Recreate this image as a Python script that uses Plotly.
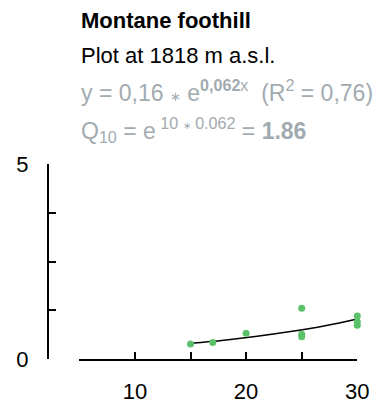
import plotly.graph_objects as go

# Observed data (temperature vs. rate)
obs_x = [15, 17, 20, 25, 25, 25, 30, 30, 30]
obs_y = [0.39, 0.43, 0.67, 1.31, 0.64, 0.58, 1.11, 0.96, 0.87]

# Fitted exponential curve
fit_x = [15, 18, 21, 24, 27, 30]
fit_y = [0.41, 0.49, 0.59, 0.71, 0.85, 1.03]

x_tickvals = [5, 10, 15, 20, 25, 30]
x_ticktext = ["", "10", "", "20", "", "30"]
y_tickvals = [0, 1.25, 2.5, 3.75, 5]
y_ticktext = ["0", "", "", "", "5"]

STAR = '<span style="font-size:13px">\u2217</span>'
STAR_SUP = '<span style="font-size:10px">\u2217</span>'
title = "Montane foothill"
subtitle = "Plot at 1818 m a.s.l."
equation = "y = 0,16 " + STAR + " e<sup><b>0,062</b>x</sup>  (R<sup>2</sup> = 0,76)"
q10 = "Q<sub>10</sub> = e<sup> 10 " + STAR_SUP + " 0.062</sup> = <b>1.86</b>"

W, H = 381, 403
GRAY = "#a2abb0"
GREEN = "#5cc26a"
FONT = "Liberation Sans, Arial, sans-serif"

fig = go.Figure()
fig.add_trace(go.Scatter(x=fit_x, y=fit_y, mode="lines", line=dict(color="black", width=1.5, shape="spline"),
                         cliponaxis=False, showlegend=False, hoverinfo="skip"))
fig.add_trace(go.Scatter(x=obs_x, y=obs_y, mode="markers", marker=dict(color=GREEN, size=7, line=dict(width=0)),
                         cliponaxis=False, showlegend=False))

fig.update_layout(
    template="none",
    width=W, height=H,
    margin=dict(l=0, r=0, t=0, b=0, pad=0),
    paper_bgcolor="white", plot_bgcolor="white",
    font=dict(family=FONT, color="black", size=22),
    xaxis=dict(domain=[79.3 / W, 357.3 / W], range=[5, 30], showgrid=False, zeroline=False,
               showline=True, linecolor="black", linewidth=1.5, automargin=False,
               ticks="inside", ticklen=8, tickwidth=1.5, tickcolor="black",
               tickvals=x_tickvals, ticktext=x_ticktext, ticklabelstandoff=12,
               tickfont=dict(size=22, family=FONT, color="black"), anchor="y"),
    yaxis=dict(domain=[(H - 359.3) / H, (H - 164) / H], range=[0, 5], showgrid=False, zeroline=False,
               showline=True, linecolor="black", linewidth=1.5, automargin=False,
               ticks="inside", ticklen=8, tickwidth=1.5, tickcolor="black",
               tickvals=y_tickvals, ticktext=y_ticktext, ticklabelstandoff=14,
               tickfont=dict(size=22, family=FONT, color="black"),
               anchor="free", position=47.7 / W),
)

x0 = 79 / W
fig.add_annotation(text="<b>" + title + "</b>", x=x0, y=1 - 20 / H, xref="paper", yref="paper",
                   xanchor="left", yanchor="middle", showarrow=False, font=dict(size=22, color="black", family=FONT))
fig.add_annotation(text=subtitle, x=x0, y=1 - 56 / H, xref="paper", yref="paper",
                   xanchor="left", yanchor="middle", showarrow=False, font=dict(size=22, color="black", family=FONT))
fig.add_annotation(text=equation, x=x0, y=1 - 91 / H, xref="paper", yref="paper",
                   xanchor="left", yanchor="middle", showarrow=False, font=dict(size=23, color=GRAY, family=FONT))
fig.add_annotation(text=q10, x=x0, y=1 - 130 / H, xref="paper", yref="paper",
                   xanchor="left", yanchor="middle", showarrow=False, font=dict(size=23, color=GRAY, family=FONT))

fig.write_html("out.html")
